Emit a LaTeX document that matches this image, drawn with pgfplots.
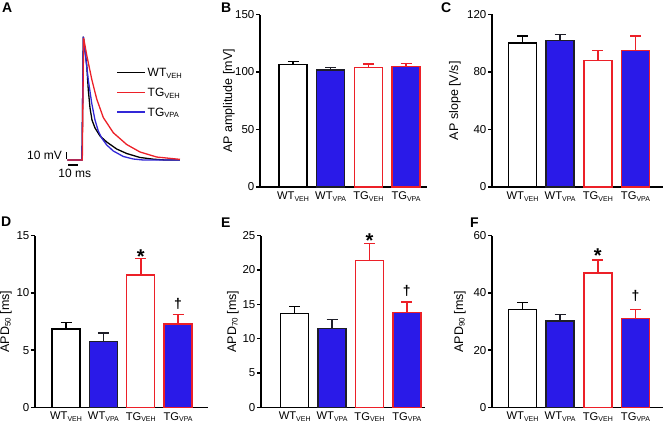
\documentclass[border=0pt]{standalone}
\usepackage{fontspec}
\setmainfont{Liberation Sans}
\usepackage{pgfplots}
\pgfplotsset{compat=1.18}
\definecolor{vblue}{RGB}{42,26,232}
\definecolor{vred}{RGB}{236,32,40}
\definecolor{tblue}{RGB}{50,40,215}
\definecolor{edge}{RGB}{30,30,40}
\newcommand\sub[2][7]{\raisebox{-1.4pt}{\fontsize{#1}{#1}\selectfont #2}}

\pgfplotsset{
  panel/.style={
    scale only axis, clip=false,
    axis x line*=bottom, axis y line*=left,
    axis line style={line width=1.4pt, black},
    enlargelimits=false, ymin=0,
    xtick={0,1,2,3},
    xticklabels={WT\sub{VEH},WT\sub{VPA},TG\sub{VEH},TG\sub{VPA}},
    x tick style={draw=none},
    y tick style={line width=1.4pt, black},
    tick align=outside, major tick length=4pt,
    minor tick num=0,
    xticklabel style={font=\fontsize{11.2}{11.2}\selectfont, anchor=north, inner sep=0pt, yshift=-0.7pt},
    yticklabel style={font=\fontsize{11.5}{11.5}\selectfont, anchor=east, inner sep=0pt, xshift=-1.5pt},
    /pgf/number format/assume math mode=true,
  },
  basebar/.style={ybar, bar width=28pt, bar shift=0pt, line width=1.4pt},
  ebar/.style={error bars/.cd, y dir=plus, y explicit,
     error bar style={line width=1.6pt, #1},
     error mark options={rotate=90, #1, line width=1.6pt, mark size=5.5pt}},
  wtveh/.style={basebar, draw=black, fill=white, ebar=black},
  wtvpa/.style={basebar, draw=edge, fill=vblue, ebar=edge},
  tgveh/.style={basebar, draw=vred, fill=white, ebar=vred},
  tgvpa/.style={basebar, draw=vred, fill=vblue, ebar=vred},
}
\tikzset{
  ylab/.style={rotate=90, anchor=center, font=\fontsize{12.5}{12.5}\selectfont},
  plab/.style={anchor=north west, inner sep=0pt, font=\fontsize{14}{14}\selectfont\bfseries},
  star/.style={anchor=base, inner sep=0pt, font=\fontsize{20}{20}\selectfont\bfseries},
  dag/.style={anchor=base, inner sep=0pt, font=\fontsize{14}{14}\selectfont\bfseries},
}

\begin{document}
\begin{tikzpicture}
\useasboundingbox (0pt,0pt) rectangle (666pt,424pt);

% ---------- Panel A: action potential traces ----------
\begin{axis}[at={(67.3pt,264pt)}, anchor=south west, scale only axis, hide axis,
  width=120pt, height=135pt, xmin=0, xmax=100, ymin=0, ymax=150, clip=false]
\addplot[black, line width=1.3pt] coordinates {
 (0,0) (12.25,0) (13.33,137) (16.17,105.6) (17.5,77.8) (18.92,57.8) (20.58,44.4)
 (23.08,35.6) (27.25,26.7) (32.83,20) (41.17,12.2) (49.5,7.2) (60.58,2.8)
 (71.67,0.9) (81.4,0) (93.9,0)};
\addplot[tblue, line width=1.3pt] coordinates {
 (0,0) (12.25,0) (13.33,137) (15.58,111.1) (17.5,88.9) (20.33,63.3) (23.08,44.4)
 (25.83,32.2) (28.67,24.4) (32.83,16.7) (38.33,10) (46.67,3.9) (55,1.1)
 (63.33,0) (93.9,0)};
\addplot[vred, line width=1.3pt] coordinates {
 (0,0) (12.5,0) (13.6,135.5) (16.17,116.7) (20.33,90) (24.5,67.8) (30,47.2)
 (38.33,30.3) (49.5,17.2) (60.58,8.9) (74.5,3.3) (93.9,0.7)};
\end{axis}
% scale bars
\draw[black, line width=1.3pt] (66.7pt,265.5pt) -- (66.7pt,272.5pt);
\draw[black, line width=1.3pt] (68.3pt,259pt) -- (78.3pt,259pt);
\node[anchor=east, inner sep=0pt, font=\fontsize{12}{12}\selectfont] at (62pt,269pt) {10 mV};
\node[anchor=center, inner sep=0pt, font=\fontsize{12}{12}\selectfont] at (74.7pt,250.7pt) {10 ms};
% legend
\draw[black, line width=1.5pt] (117pt,351.5pt) -- (145pt,351.5pt);
\draw[vred, line width=1.5pt] (117pt,331.5pt) -- (145pt,331.5pt);
\draw[tblue, line width=1.5pt] (117pt,312pt) -- (145pt,312pt);
\node[anchor=base west, inner sep=0pt, font=\fontsize{12}{12}\selectfont] at (147.5pt,347.2pt) {WT\sub[7.5]{VEH}};
\node[anchor=base west, inner sep=0pt, font=\fontsize{12}{12}\selectfont] at (147.5pt,327.2pt) {TG\sub[7.5]{VEH}};
\node[anchor=base west, inner sep=0pt, font=\fontsize{12}{12}\selectfont] at (147.5pt,307.7pt) {TG\sub[7.5]{VPA}};

% ---------- Panel B: AP amplitude ----------
\begin{axis}[panel, at={(260pt,237pt)}, anchor=south west, width=167pt, height=172.5pt,
  xmin=-0.876, xmax=3.557, ymax=150, ytick={0,50,100,150}]
\addplot[wtveh] coordinates {(0,106.7) +- (0,2.3)};
\addplot[wtvpa] coordinates {(1,101.8) +- (0,2.0)};
\addplot[tgveh] coordinates {(2,103.8) +- (0,2.9)};
\addplot[tgvpa] coordinates {(3,104.7) +- (0,2.6)};
\node[ylab] at ([xshift=-31pt]axis description cs:0,0.5) {AP amplitude [mV]};
\end{axis}

% ---------- Panel C: AP slope ----------
\begin{axis}[panel, at={(492pt,237pt)}, anchor=south west, width=171pt, height=172.5pt,
  xmin=-0.81, xmax=3.73, ymax=120, ytick={0,40,80,120}]
\addplot[wtveh] coordinates {(0,100.2) +- (0,4.7)};
\addplot[wtvpa] coordinates {(1,101.9) +- (0,4.2)};
\addplot[tgveh] coordinates {(2,88.1) +- (0,6.8)};
\addplot[tgvpa] coordinates {(3,94.9) +- (0,10.0)};
\node[ylab] at ([xshift=-37pt]axis description cs:0,0.5) {AP slope [V/s]};
\end{axis}

% ---------- Panel D: APD50 ----------
\begin{axis}[panel, at={(35pt,16.7pt)}, anchor=south west, width=173pt, height=171.6pt,
  xmin=-0.83, xmax=3.8, ymax=15, ytick={0,5,10,15}]
\addplot[wtveh] coordinates {(0,6.85) +- (0,0.55)};
\addplot[wtvpa] coordinates {(1,5.74) +- (0,0.76)};
\addplot[tgveh] coordinates {(2,11.56) +- (0,1.44)};
\addplot[tgvpa] coordinates {(3,7.28) +- (0,0.82)};
\node[star] at ([yshift=-4.8pt]axis cs:2,13.0) {*};
\node[dag] at ([yshift=6pt]axis cs:3,8.1) {†};
\node[ylab] at ([xshift=-29pt]axis description cs:0,0.5) {APD\sub[8]{50} [ms]};
\end{axis}

% ---------- Panel E: APD70 ----------
\begin{axis}[panel, at={(261pt,16.7pt)}, anchor=south west, width=164pt, height=171.6pt,
  xmin=-0.9, xmax=3.485, ymax=25, ytick={0,5,10,15,20,25}]
\addplot[wtveh] coordinates {(0,13.69) +- (0,1.0)};
\addplot[wtvpa] coordinates {(1,11.5) +- (0,1.3)};
\addplot[tgveh] coordinates {(2,21.36) +- (0,2.5)};
\addplot[tgvpa] coordinates {(3,13.83) +- (0,1.5)};
\node[star] at ([yshift=-3.8pt]axis cs:2,23.86) {*};
\node[dag] at ([yshift=6.6pt]axis cs:3,15.33) {†};
\node[ylab] at ([xshift=-28pt]axis description cs:0,0.5) {APD\sub[8]{70} [ms]};
\end{axis}

% ---------- Panel F: APD90 ----------
\begin{axis}[panel, at={(492pt,16.7pt)}, anchor=south west, width=171pt, height=171.6pt,
  xmin=-0.81, xmax=3.73, ymax=60, ytick={0,20,40,60}]
\addplot[wtveh] coordinates {(0,34.1) +- (0,2.6)};
\addplot[wtvpa] coordinates {(1,30.2) +- (0,2.2)};
\addplot[tgveh] coordinates {(2,46.95) +- (0,4.65)};
\addplot[tgvpa] coordinates {(3,31.0) +- (0,3.25)};
\node[star] at ([yshift=-2.7pt]axis cs:2,51.6) {*};
\node[dag] at ([yshift=8.9pt]axis cs:3,34.25) {†};
\node[ylab] at ([xshift=-32pt]axis description cs:0,0.5) {APD\sub[8]{90} [ms]};
\end{axis}

% panel letters
\node[plab] at (2pt,421pt) {A};
\node[plab] at (221pt,421pt) {B};
\node[plab] at (441pt,421pt) {C};
\node[plab] at (1pt,207.3pt) {D};
\node[plab] at (221pt,206pt) {E};
\node[plab] at (470pt,206pt) {F};
\end{tikzpicture}
\end{document}
